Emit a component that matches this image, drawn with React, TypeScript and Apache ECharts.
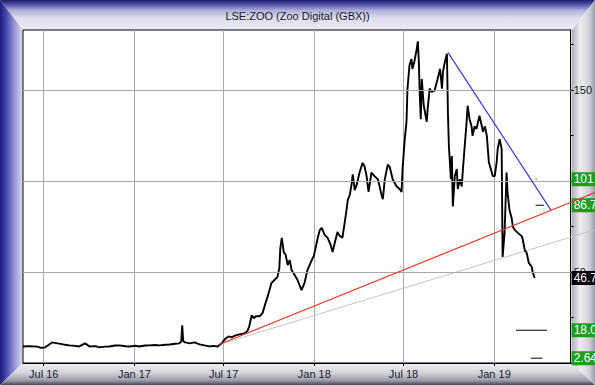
import React, { useEffect, useRef } from 'react';
import * as echarts from 'echarts';

const titleText = 'LSE:ZOO (Zoo Digital (GBX))';
const monthNames = ['Jan', 'Feb', 'Mar', 'Apr', 'May', 'Jun', 'Jul', 'Aug', 'Sep', 'Oct', 'Nov', 'Dec'];
const tickDates = ['2016-07-01', '2017-01-01', '2017-07-01', '2018-01-01', '2018-07-01', '2019-01-01'];
const axisStart = '2016-05-20';
const axisEnd = '2019-06-05';
// date at the page's right edge, so that the support lines can run over the price-axis strip
const frameEnd = '2019-07-21';
const yTicks = [0, 25, 50, 75, 100, 125, 150, 175];
const yLabels = [50, 100, 150];

const priceDates = [
  '2016-05-20', '2016-06-02', '2016-06-18', '2016-06-26', '2016-07-04', '2016-07-12', '2016-07-18', '2016-07-29',
  '2016-08-10', '2016-08-22', '2016-09-03', '2016-09-11', '2016-09-23', '2016-10-02', '2016-10-14', '2016-10-22',
  '2016-11-03', '2016-11-11', '2016-11-23', '2016-12-02', '2016-12-14', '2016-12-22', '2017-01-03', '2017-01-11',
  '2017-01-23', '2017-01-31', '2017-02-12', '2017-02-21', '2017-03-05', '2017-03-13', '2017-03-25', '2017-04-02',
  '2017-04-06', '2017-04-08', '2017-04-10', '2017-04-14', '2017-04-23', '2017-05-03', '2017-05-13', '2017-05-23',
  '2017-06-02', '2017-06-10', '2017-06-19', '2017-06-27', '2017-07-05', '2017-07-11', '2017-07-17', '2017-07-25',
  '2017-08-02', '2017-08-12', '2017-08-18', '2017-08-22', '2017-08-27', '2017-08-31', '2017-09-04', '2017-09-12',
  '2017-09-18', '2017-09-24', '2017-09-28', '2017-10-02', '2017-10-06', '2017-10-12', '2017-10-18', '2017-10-22',
  '2017-10-24', '2017-10-27', '2017-10-31', '2017-11-04', '2017-11-08', '2017-11-12', '2017-11-16', '2017-11-22',
  '2017-11-28', '2017-12-02', '2017-12-06', '2017-12-12', '2017-12-18', '2017-12-25', '2017-12-31', '2018-01-04',
  '2018-01-08', '2018-01-12', '2018-01-16', '2018-01-22', '2018-01-28', '2018-02-03', '2018-02-07', '2018-02-13',
  '2018-02-17', '2018-02-21', '2018-02-27', '2018-03-06', '2018-03-10', '2018-03-14', '2018-03-18', '2018-03-20',
  '2018-03-24', '2018-03-28', '2018-04-03', '2018-04-09', '2018-04-13', '2018-04-17', '2018-04-21', '2018-04-27',
  '2018-05-03', '2018-05-10', '2018-05-18', '2018-05-20', '2018-05-24', '2018-05-30', '2018-06-03', '2018-06-09',
  '2018-06-17', '2018-06-23', '2018-06-27', '2018-06-29', '2018-07-03', '2018-07-07', '2018-07-09', '2018-07-13',
  '2018-07-17', '2018-07-19', '2018-07-23', '2018-07-28', '2018-07-30', '2018-08-01', '2018-08-03', '2018-08-05',
  '2018-08-07', '2018-08-11', '2018-08-17', '2018-08-19', '2018-08-23', '2018-08-27', '2018-09-02', '2018-09-08',
  '2018-09-13', '2018-09-17', '2018-09-19', '2018-09-23', '2018-09-27', '2018-09-29', '2018-10-01', '2018-10-03',
  '2018-10-05', '2018-10-07', '2018-10-09', '2018-10-13', '2018-10-17', '2018-10-19', '2018-10-23', '2018-10-27',
  '2018-10-29', '2018-11-02', '2018-11-06', '2018-11-08', '2018-11-12', '2018-11-16', '2018-11-18', '2018-11-22',
  '2018-11-26', '2018-12-02', '2018-12-07', '2018-12-09', '2018-12-13', '2018-12-17', '2018-12-21', '2018-12-25',
  '2018-12-29', '2019-01-02', '2019-01-06', '2019-01-08', '2019-01-12', '2019-01-16', '2019-01-18', '2019-01-22',
  '2019-01-26', '2019-01-28', '2019-02-01', '2019-02-05', '2019-02-08', '2019-02-12', '2019-02-18', '2019-02-26',
  '2019-02-28', '2019-03-04', '2019-03-08', '2019-03-12', '2019-03-18', '2019-03-20', '2019-03-24',
];

const priceValues = [
  9.1, 9.3, 9.0, 8.3, 8.6, 10.2, 11.3, 10.8,
  10.2, 9.7, 9.4, 9.1, 10.8, 9.1, 9.3, 8.6,
  9.0, 9.1, 9.6, 9.7, 9.2, 9.1, 9.5, 9.1,
  9.6, 9.7, 9.9, 9.7, 10.0, 10.2, 10.6, 10.8,
  11.8, 20.7, 12.0, 11.3, 10.8, 11.3, 10.2, 9.7,
  9.1, 9.4, 9.1, 10.8, 13.5, 14.6, 14.1, 15.2,
  15.7, 16.3, 17.4, 20.2, 26.2, 24.6, 25.7, 25.7,
  27.4, 32.9, 36.2, 40, 43.9, 45.6, 47.2, 52,
  63, 68.8, 61, 59.3, 53.8, 56.6, 51, 48.3,
  45.6, 42.8, 40, 43.9, 51, 55.5, 58.8, 63.8,
  68.8, 73, 74.3, 70.4, 68.8, 65, 61, 67.7,
  72, 70, 68.8, 81.5, 89.6, 92.4, 99, 103.6,
  95, 98, 105, 110, 108, 102.7, 94, 104.7,
  102.7, 101, 91.7, 90, 101, 109, 107.7, 101,
  97, 95.6, 94, 106.6, 121.5, 132.6, 150.8, 163.5,
  167, 161.6, 165.7, 172.9, 176.8, 165.7, 147, 134,
  156, 141.4, 132.6, 139.8, 150.8, 149, 149.7, 156,
  161.6, 150.8, 160, 165.7, 170, 138, 119, 110.5,
  101, 113.8, 86, 102.7, 106.6, 95.6, 101, 97,
  104.7, 119, 132.6, 141.4, 134, 130, 124.8, 130,
  128.7, 135.9, 130, 127, 130, 124.8, 110.5, 106.6,
  102.7, 102.7, 110.5, 117.7, 123, 117.7, 58.3, 71.5,
  104.7, 93.6, 84, 80, 74.7, 73, 71.5, 69.6,
  67.6, 62, 60.4, 55, 53, 50, 46.7,
];

const redTrendDates = ['2017-06-19', '2019-07-24'];
const redTrendValues = [10, 94];
const greyTrendDates = ['2017-06-19', '2019-07-24'];
const greyTrendValues = [10, 73.5];
const blueTrendDates = ['2018-09-29', '2019-04-26'];
const blueTrendValues = [170.7, 84];

const targetStarts = ['2019-03-26', '2019-03-26', '2019-02-14', '2019-03-16'];
const targetEnds = ['2019-04-12', '2019-03-28', '2019-04-18', '2019-04-09'];
const targetValues = [86.7, 101, 18.0, 2.64];

const levelTexts = ['101', '86.7', '46.7', '18.0', '2.64'];
const levelValues = [101, 86.7, 46.7, 18.0, 2.64];
const levelColors = ['#1f9c1f', '#1f9c1f', '#000000', '#1f9c1f', '#1f9c1f'];

const FONT = 'Liberation Sans, Arial, sans-serif';

function ts(s: string): number {
  return +echarts.time.parse(s);
}

function zip(dates: string[], values: number[]) {
  return dates.map((d, i) => [ts(d), values[i]]);
}

export default function App() {
  const ref = useRef<HTMLDivElement>(null);

  useEffect(() => {
    document.body.style.margin = '0';
    if (!ref.current) return;
    const chart = echarts.init(ref.current, null, { renderer: 'svg' });

    const lin = (x2: number, y2: number, stops: [number, string][]) => ({
      type: 'linear', x: 0, y: 0, x2, y2,
      colorStops: stops.map(([offset, color]) => ({ offset, color })),
    });

    const targetSeries = targetValues.map((v, i) => ({
      type: 'line',
      data: [[ts(targetStarts[i]), v], [ts(targetEnds[i]), v]],
      showSymbol: false,
      lineStyle: { color: '#000', width: 1 },
      silent: true,
      z: 4,
    }));

    const tickValues = tickDates.map(ts);

    const option: any = {
      animation: false,
      backgroundColor: 'transparent',
      graphic: [
        { type: 'polygon', z: -10, silent: true, shape: { points: [[0, 0], [595, 0], [572, 30], [23, 30]] },
          style: { fill: lin(0, 1, [[0, '#1e1e68'], [0.12, '#4646a2'], [0.35, '#b0b0da'], [0.6, '#dedeee'], [1, '#ececf3']]) } },
        { type: 'polygon', z: -10, silent: true, shape: { points: [[0, 0], [23, 30], [23, 363], [0, 385]] },
          style: { fill: lin(1, 0, [[0, '#1e1e78'], [0.2, '#3838a6'], [0.7, '#a4a4da'], [1, '#dcdcee']]) } },
        { type: 'polygon', z: -10, silent: true, shape: { points: [[0, 385], [23, 363], [572, 363], [595, 385]] },
          style: { fill: lin(0, 1, [[0, '#f2f2f6'], [0.45, '#d2d2da'], [0.8, '#9a9aa6'], [1, '#464658']]) } },
        { type: 'polygon', z: -10, silent: true, shape: { points: [[595, 0], [572, 30], [572, 363], [595, 385]] },
          style: { fill: lin(1, 0, [[0, '#b0b0ba'], [0.35, '#eeeef2'], [0.75, '#d0d0d8'], [1, '#9c9ca8']]) } },
      ],
      title: {
        text: titleText,
        left: 'center',
        top: 5,
        textStyle: { fontSize: 11, fontWeight: 'normal', color: '#1a1a30', fontFamily: FONT },
      },
      grid: [
        {
          left: 23, right: 23, top: 30, bottom: 22,
          show: true, backgroundColor: '#ffffff', borderColor: '#000000', borderWidth: 1,
        },
        { left: 23, right: 0, top: 30, bottom: 22, show: false },
      ],
      xAxis: [
        {
          type: 'value',
          gridIndex: 0,
          min: ts(axisStart),
          max: ts(axisEnd),
          axisLine: { show: true, lineStyle: { color: '#000', width: 1 } },
          axisTick: { show: true, customValues: tickValues, length: 3, lineStyle: { color: '#000' } },
          axisLabel: {
            customValues: tickValues,
            margin: 5,
            color: '#1a1a2a',
            fontSize: 11,
            fontFamily: FONT,
            formatter: (val: number) => {
              const d = new Date(val);
              return monthNames[d.getMonth()] + ' ' + String(d.getFullYear()).slice(2);
            },
          },
          splitLine: { show: true, lineStyle: { color: '#a8a8a8', width: 1 } },
        },
        {
          type: 'value',
          gridIndex: 1,
          min: ts(axisStart),
          max: ts(frameEnd),
          show: false,
          splitLine: { show: false },
        },
      ],
      yAxis: [
        {
          type: 'value',
          gridIndex: 0,
          position: 'right',
          min: 0,
          max: 183,
          axisLine: { show: true, lineStyle: { color: '#000', width: 1 } },
          axisTick: { show: true, customValues: yTicks, length: 3, lineStyle: { color: '#000' } },
          axisLabel: { customValues: yLabels, margin: 3, color: '#1a1a2a', fontSize: 11, fontFamily: FONT },
          splitLine: { show: false },
        },
        {
          type: 'value',
          gridIndex: 1,
          min: 0,
          max: 183,
          show: false,
          splitLine: { show: false },
        },
      ],
      series: [
        {
          type: 'line',
          name: 'gridlines',
          data: [],
          xAxisIndex: 0,
          yAxisIndex: 0,
          silent: true,
          z: 1,
          markLine: {
            silent: true,
            symbol: ['none', 'none'],
            label: { show: false },
            lineStyle: { color: '#a8a8a8', width: 1, type: 'solid' },
            data: yLabels.map((v) => ({ yAxis: v })),
          },
        },
        {
          type: 'line',
          name: 'support2',
          data: zip(greyTrendDates, greyTrendValues),
          xAxisIndex: 1,
          yAxisIndex: 1,
          showSymbol: false,
          lineStyle: { color: '#c4c4c4', width: 1 },
          silent: true,
          z: 2,
        },
        {
          type: 'line',
          name: 'price',
          data: zip(priceDates, priceValues),
          xAxisIndex: 0,
          yAxisIndex: 0,
          showSymbol: false,
          lineStyle: { color: '#000000', width: 1.9 },
          silent: true,
          z: 4,
          markLine: {
            silent: true,
            symbol: ['none', 'none'],
            lineStyle: { color: 'rgba(0,0,0,0)', width: 1 },
            data: levelValues.map((v, i) => ({
              yAxis: v,
              label: {
                show: true,
                position: 'end',
                distance: 1,
                formatter: levelTexts[i],
                color: '#ffffff',
                fontSize: 12,
                fontFamily: FONT,
                backgroundColor: levelColors[i],
                lineHeight: 12,
                padding: [1, 10, 1, 2],
              },
            })),
          },
        },
        {
          type: 'line',
          name: 'support1',
          data: zip(redTrendDates, redTrendValues),
          xAxisIndex: 1,
          yAxisIndex: 1,
          showSymbol: false,
          lineStyle: { color: '#e83a22', width: 1.2 },
          silent: true,
          z: 5,
        },
        {
          type: 'line',
          name: 'resistance',
          data: zip(blueTrendDates, blueTrendValues),
          xAxisIndex: 0,
          yAxisIndex: 0,
          showSymbol: false,
          lineStyle: { color: '#3c3cc8', width: 1.2 },
          silent: true,
          z: 5,
        },
        ...targetSeries,
      ],
    };

    chart.setOption(option);
    return () => chart.dispose();
  }, []);

  return <div ref={ref} style={{ width: 595, height: 385, position: 'absolute', left: 0, top: 0 }} />;
}
